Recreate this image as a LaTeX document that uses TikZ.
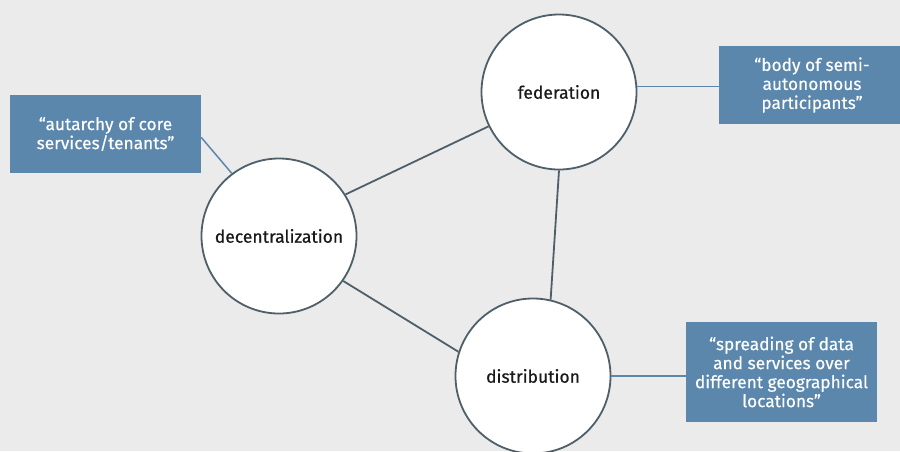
\documentclass[tikz,border=0pt]{standalone}
\usepackage{fontspec}
\setmainfont{Fira Sans}
\newfontfamily\conceptfont[FakeBold=0.6]{Fira Sans}
\newfontfamily\quotefont[FakeBold=0.3]{Fira Sans}
\usepackage{xcolor}

\definecolor{bgray}{HTML}{EBEBEB}
\definecolor{qblue}{HTML}{5B87AD}
\definecolor{slate}{HTML}{4E5F69}

\begin{document}
\begin{tikzpicture}[x=1pt,y=-1pt,
  concept/.style={circle,draw=slate,line width=1.8pt,fill=white,minimum size=155pt,inner sep=0pt,
                  text=black!90,font=\conceptfont\fontsize{17.5}{20}\selectfont},
  quote/.style={fill=qblue,text=white,align=center,inner sep=0pt,
                font=\quotefont\fontsize{17.3}{19}\selectfont},
  link/.style={slate,line width=1.8pt},
  qlink/.style={qblue,line width=1.5pt}]
%\draw[step=50,gray,very thin] (0,0) grid (900,451); %background grid

\fill[bgray] (0,0) rectangle (900,451);
\useasboundingbox (0,0) rectangle (900,451);
\clip (0,0) rectangle (900,451);

\node[quote,minimum width=191pt,minimum height=78pt] (autarchy) at (105.5,134) {“autarchy of core\\services/tenants”};
\node[quote,minimum width=186pt,minimum height=78pt] (body) at (812,85) {“body of semi-\\autonomous\\participants”};
\node[quote,minimum width=191pt,minimum height=100pt] (spreading) at (781.5,372) {“spreading of data\\and services over\\different geographical\\locations”};

\node[concept] (fed) at (559,92) {federation};
\node[concept] (dec) at (279,236) {decentralization};
\node[concept] (dist) at (533,376) {distribution};

\draw[link] (dec.32) -- (fed.206);
\draw[link] (fed.270) -- (dist.77);
\draw[link] (dec.325) -- (dist.162);

\draw[qlink] (autarchy.-2) -- (dec.127);
\draw[qlink] (fed.4) -- (fed.4 -| body.west);
\draw[qlink] (dist.east) -- (dist.east -| spreading.west);

\end{tikzpicture}
\end{document}
